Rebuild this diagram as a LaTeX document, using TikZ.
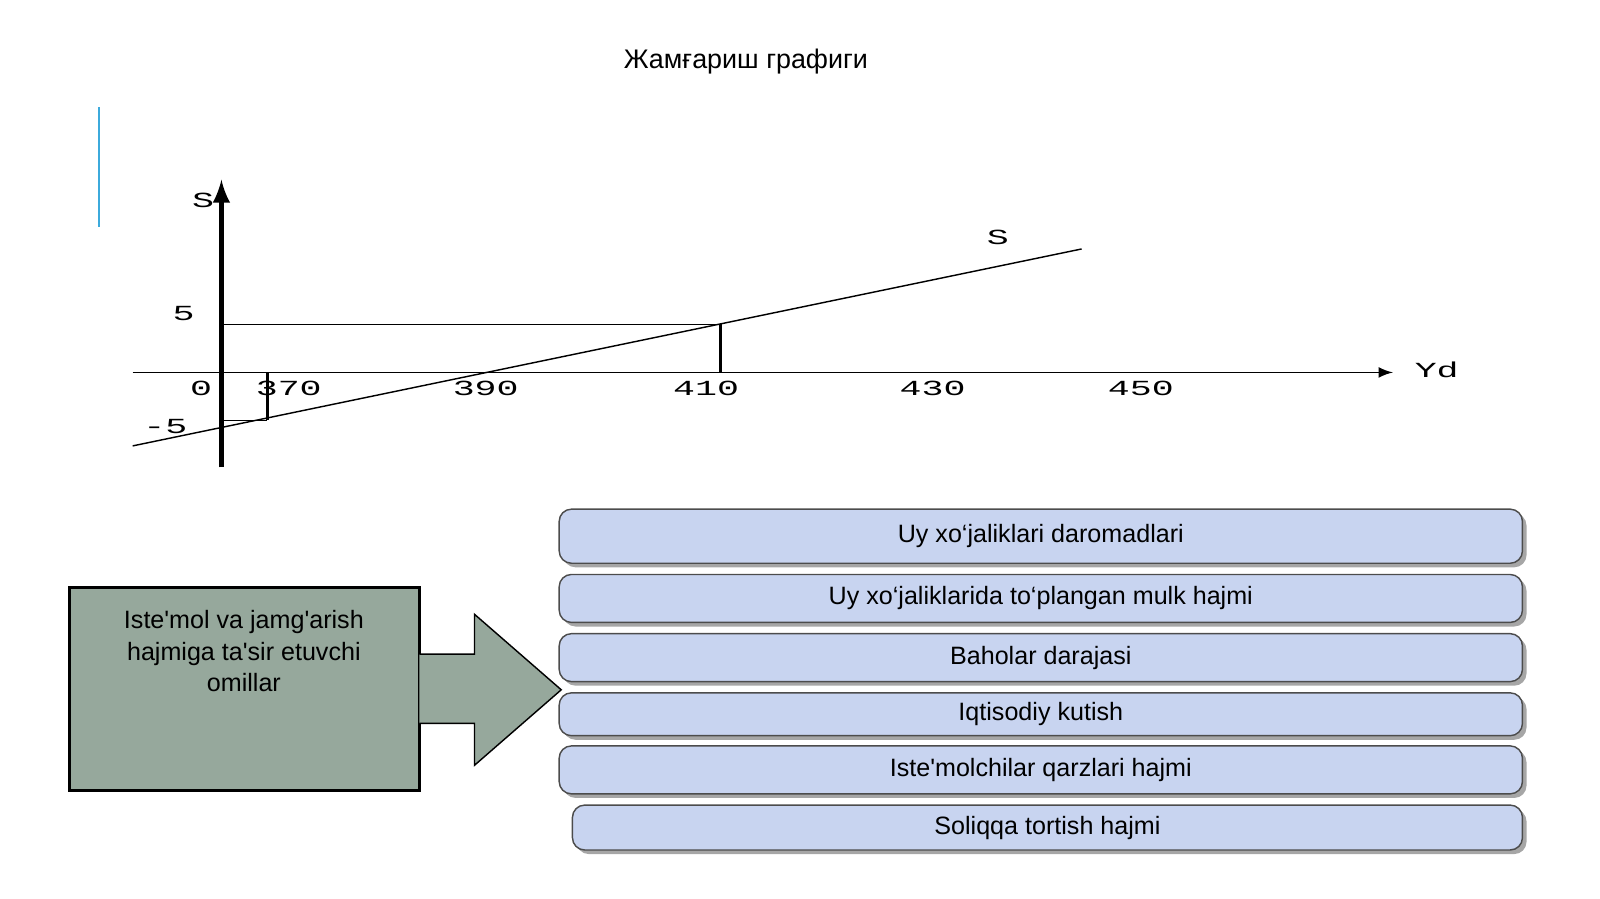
\documentclass[tikz,border=0pt]{standalone}
\usepackage{fontspec}
\setmainfont{Liberation Sans}
\newfontfamily\plotfont{Liberation Mono}
\newcommand\ap{\textquotesingle}
\definecolor{boxblue}{RGB}{200,212,240}
\definecolor{boxgreen}{RGB}{150,168,156}
\definecolor{barblue}{RGB}{60,170,220}
\tikzset{
  factor/.style={draw=black!70,rounded corners=1.2mm,fill=boxblue},
  factorshadow/.style={rounded corners=1.2mm,fill=black!35},
  tick/.style={font=\plotfont\fontsize{6}{7}\selectfont,xscale=1.7}
}
\begin{document}
\begin{tikzpicture}[x=0.1mm,y=-0.1mm]
        \node[font=\fontsize{7.5}{9}\selectfont] (title) at (731,60) {Жамғариш графиги};
        \draw[barblue,thick] (97,105) -- (97,222);
        % axes
        \draw[very thick,-latex] (217,458) -- (217,176);
        \draw[-latex] (130,365) -- (1365,365);
        \draw (130,437) -- (1060,244);
        \draw (217,318) -- (706,318);
        \draw[thick] (706,318) -- (706,365);
        \draw[thick] (262,365) -- (262,412);
        \draw (217,412) -- (262,412);
        \node[tick] at (199,196) {S};
        \node[tick] at (978,233) {S};
        \node[tick] at (180,307) {5};
        \node[tick] at (162,418) {-5};
        \node[tick] at (197,381) {0};
        \node[tick] at (283,381) {370};
        \node[tick] at (476,381) {390};
        \node[tick] at (692,381) {410};
        \node[tick] at (914,381) {430};
        \node[tick] at (1118,381) {450};
        \node[tick] at (1408,362) {Yd};
        % factors
        \draw[thick,fill=boxgreen] (68,576) rectangle (411,775);
        \draw[fill=boxgreen] (411,641) -- (465,641) -- (465,602) -- (550,676)
            -- (465,750) -- (465,709) -- (411,709);
        \node[align=center,font=\fontsize{7}{8.8}\selectfont,anchor=north] (main) at (239,586)
            {Iste\ap mol va jamg\ap arish\\hajmiga ta\ap sir etuvchi\\omillar};
        \foreach \name/\xa/\ya/\yb/\txt in {
            f1/548/499/552/{Uy xo‘jaliklari daromadlari},
            f2/548/563/610/{Uy xo‘jaliklarida to‘plangan mulk hajmi},
            f3/548/621/668/{Baholar darajasi},
            f4/548/679/721/{Iqtisodiy kutish},
            f5/548/731/778/{Iste\ap molchilar qarzlari hajmi},
            f6/561/789/833/{Soliqqa tortish hajmi}}{
          \fill[factorshadow] (\xa+4,\ya+4) rectangle (1496,\yb+4);
          \draw[factor] (\xa,\ya) rectangle (1492,\yb);
          \node[font=\fontsize{7}{8.5}\selectfont] (\name) at ({(\xa+1492)/2},{(\ya+\yb)/2}) {\txt};
        }
        \pgfresetboundingbox
        \useasboundingbox (0,0) rectangle (1568,881);
    \end{tikzpicture}
\end{document}
